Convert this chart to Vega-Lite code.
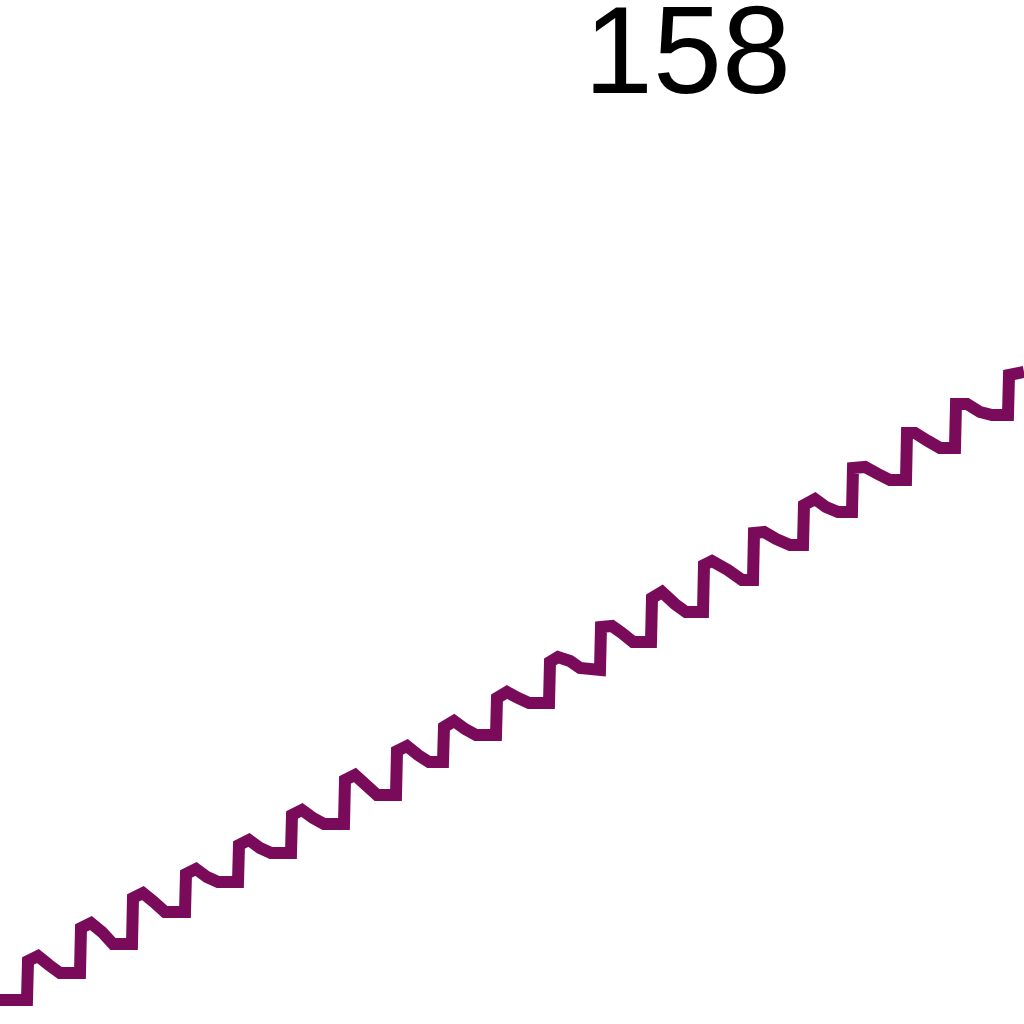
{
  "$schema": "https://vega.github.io/schema/vega-lite/v6.json",
  "width": 1024,
  "height": 1024,
  "autosize": "none",
  "padding": 0,
  "background": "white",
  "config": {"view": {"stroke": null}},
  "datasets": {
    "series": [
      {"t": 0, "v": 2.4}, {"t": 2.7, "v": 2.4}, {"t": 2.8, "v": 6.3}, {"t": 3.8, "v": 6.8}, {"t": 4.9, "v": 5.9}, {"t": 6.0, "v": 5.1},
      {"t": 8.0, "v": 5.1}, {"t": 8.1, "v": 9.6}, {"t": 9.1, "v": 10.1}, {"t": 10.2, "v": 9.2}, {"t": 11.3, "v": 8.0},
      {"t": 13.2, "v": 8.0}, {"t": 13.3, "v": 12.6}, {"t": 14.3, "v": 13.1}, {"t": 15.4, "v": 12.2}, {"t": 16.5, "v": 11.2},
      {"t": 18.5, "v": 11.2}, {"t": 18.6, "v": 15.0}, {"t": 19.6, "v": 15.5}, {"t": 20.7, "v": 14.7}, {"t": 21.8, "v": 14.2},
      {"t": 23.8, "v": 14.2}, {"t": 23.9, "v": 17.9}, {"t": 24.9, "v": 18.4}, {"t": 26.0, "v": 17.6}, {"t": 27.1, "v": 17.1},
      {"t": 29.1, "v": 17.1}, {"t": 29.2, "v": 20.9}, {"t": 30.2, "v": 21.4}, {"t": 31.3, "v": 20.6}, {"t": 32.4, "v": 20.0},
      {"t": 34.4, "v": 20.0}, {"t": 34.5, "v": 24.4}, {"t": 35.5, "v": 24.9}, {"t": 36.6, "v": 23.9}, {"t": 37.7, "v": 22.9},
      {"t": 39.6, "v": 22.9}, {"t": 39.7, "v": 27.3}, {"t": 40.7, "v": 27.8}, {"t": 41.8, "v": 26.9}, {"t": 42.9, "v": 26.2},
      {"t": 44.3, "v": 26.2}, {"t": 44.4, "v": 29.7}, {"t": 45.4, "v": 30.3}, {"t": 46.5, "v": 29.5}, {"t": 47.6, "v": 28.9},
      {"t": 49.6, "v": 28.9}, {"t": 49.7, "v": 32.6}, {"t": 50.7, "v": 33.2}, {"t": 51.8, "v": 32.6}, {"t": 52.9, "v": 32.1},
      {"t": 54.9, "v": 32.1}, {"t": 55.0, "v": 36.2}, {"t": 55.8, "v": 36.7}, {"t": 57.0, "v": 36.3}, {"t": 58.0, "v": 35.6},
      {"t": 60.0, "v": 35.4}, {"t": 60.1, "v": 39.7}, {"t": 61.2, "v": 39.8}, {"t": 62.2, "v": 39.1}, {"t": 63.3, "v": 38.2},
      {"t": 65.1, "v": 38.2}, {"t": 65.2, "v": 42.6}, {"t": 66.2, "v": 43.2}, {"t": 67.5, "v": 42.0}, {"t": 68.6, "v": 41.2},
      {"t": 70.3, "v": 41.2}, {"t": 70.4, "v": 45.9}, {"t": 71.2, "v": 46.3}, {"t": 72.8, "v": 45.4}, {"t": 74.2, "v": 44.4},
      {"t": 75.3, "v": 44.4}, {"t": 75.4, "v": 49.1}, {"t": 76.4, "v": 49.2}, {"t": 77.6, "v": 48.5}, {"t": 79.0, "v": 47.9},
      {"t": 80.3, "v": 47.9}, {"t": 80.4, "v": 51.9}, {"t": 81.5, "v": 52.5}, {"t": 82.6, "v": 51.7}, {"t": 83.8, "v": 51.2},
      {"t": 85.2, "v": 51.2}, {"t": 85.3, "v": 55.6}, {"t": 86.5, "v": 55.7}, {"t": 87.8, "v": 55.0}, {"t": 89.0, "v": 54.4},
      {"t": 90.6, "v": 54.4}, {"t": 90.7, "v": 59.1}, {"t": 91.5, "v": 59.1}, {"t": 92.8, "v": 58.3}, {"t": 94.0, "v": 57.6},
      {"t": 95.5, "v": 57.6}, {"t": 95.6, "v": 62.0}, {"t": 96.7, "v": 62.0}, {"t": 98.0, "v": 61.2}, {"t": 99.2, "v": 60.9},
      {"t": 100.8, "v": 60.9}, {"t": 100.9, "v": 64.9}, {"t": 102.4, "v": 65.2}
    ],
    "label": [{"t": 68.75, "v": 93.1, "text": "158"}]
  },
  "layer": [
    {
      "data": {"name": "series"},
      "mark": {"type": "line", "color": "#7a0b5b", "strokeWidth": 12, "strokeJoin": "miter", "strokeCap": "butt", "clip": true},
      "encoding": {
        "x": {"field": "t", "type": "quantitative", "scale": {"domain": [0, 102.4], "nice": false, "zero": false}, "axis": null},
        "y": {"field": "v", "type": "quantitative", "scale": {"domain": [0, 102.4], "nice": false, "zero": false}, "axis": null},
        "order": {"field": "t", "type": "quantitative"}
      }
    },
    {
      "data": {"name": "label"},
      "mark": {"type": "text", "font": "Liberation Sans", "fontSize": 124, "align": "center", "baseline": "alphabetic", "color": "#000000"},
      "encoding": {
        "x": {"field": "t", "type": "quantitative", "scale": {"domain": [0, 102.4], "nice": false, "zero": false}, "axis": null},
        "y": {"field": "v", "type": "quantitative", "scale": {"domain": [0, 102.4], "nice": false, "zero": false}, "axis": null},
        "text": {"field": "text"}
      }
    }
  ]
}
